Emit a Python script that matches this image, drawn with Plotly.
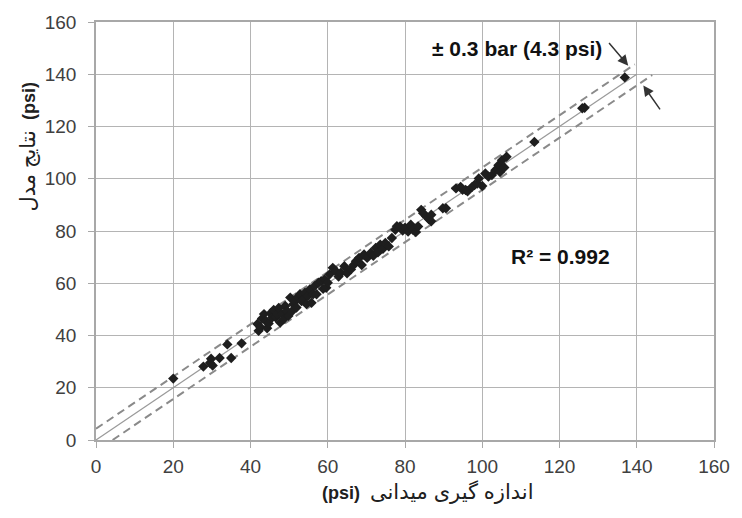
import plotly.graph_objects as go

# Field measurement (x) vs model result (y), psi
measured = [20.0, 27.8, 29.5, 29.8, 30.2, 32.0, 34.0, 35.0, 37.7,
            41.8, 42.1, 42.6, 43.0, 43.5, 43.9, 44.3, 44.7, 45.2, 45.6, 46.0,
            46.5, 46.9, 47.3, 47.7, 48.2, 48.6, 49.0, 49.4, 49.8, 50.3,
            50.8, 51.1, 51.5, 51.9, 52.3, 52.8, 53.2, 53.7, 54.1, 54.5,
            54.9, 55.4, 55.8, 56.2, 56.6, 57.1, 57.6, 58.3, 58.8, 59.2,
            59.6, 60.0, 60.5, 61.3, 62.1, 62.8, 63.4, 64.3, 65.0, 66.0,
            66.7, 67.3, 68.1, 68.8, 69.4, 70.2, 71.1, 71.8, 72.4, 73.0,
            73.6, 74.3, 74.9, 75.8, 76.6, 77.5, 77.9, 78.7, 79.4, 80.0,
            80.8, 81.5, 82.1, 82.8, 83.4, 84.2, 84.7, 85.5, 86.2, 86.8,
            86.8, 89.8, 90.6, 93.2, 94.4, 94.9, 95.7, 96.2, 97.4, 98.0,
            98.7, 99.1, 100.0, 100.8, 101.6, 102.5, 103.4, 104.2, 104.6, 105.1,
            105.7, 106.3, 113.5, 125.9, 126.5, 136.9]
model = [23.5, 28.1, 29.5, 31.1, 28.5, 31.4, 36.6, 31.4, 37.0,
         44.4, 41.8, 43.2, 46.5, 48.2, 45.6, 42.8, 44.6, 48.5, 46.9, 49.8,
         47.0, 48.2, 50.5, 45.0, 48.2, 46.2, 51.3, 49.5, 47.5, 54.5,
         49.4, 52.0, 53.2, 50.7, 54.8, 55.8, 53.2, 53.9, 56.4, 52.0,
         55.1, 57.7, 52.5, 55.8, 58.9, 55.8, 60.2, 60.8, 57.9, 61.5,
         58.3, 60.2, 63.4, 65.9, 64.6, 62.6, 64.0, 66.5, 63.8, 65.3,
         67.0, 68.4, 69.7, 67.0, 71.0, 69.7, 71.6, 70.5, 73.5, 71.8,
         74.8, 73.2, 75.4, 74.1, 77.3, 80.5, 81.8, 81.7, 80.2, 81.3,
         79.8, 82.4, 80.4, 79.6, 81.7, 88.1, 86.8, 85.6, 84.5, 86.2,
         83.7, 88.7, 88.7, 96.3, 96.9, 95.8, 95.7, 95.2, 96.9, 97.6,
         98.2, 100.1, 97.2, 102.0, 100.8, 101.4, 103.3, 105.2, 102.6, 107.1,
         104.3, 108.4, 114.1, 127.0, 127.2, 138.8]

# Reference lines: 1:1 line and the +/- 4.3 psi band
ideal_x = [0, 140]
ideal_y = [0, 140]
upper_x = [0, 139.5]
upper_y = [4.3, 143.8]
lower_x = [4.3, 144]
lower_y = [0, 139.7]

ticks = [0, 20, 40, 60, 80, 100, 120, 140, 160]

x_title = "<b>(psi)</b>  <span style='font-size:21px'>اندازه گیری میدانی</span>"
y_title = "<span style='font-size:21px'>نتایج مدل</span>  <b>(psi)</b>"
band_label = "<b>± 0.3 bar (4.3 psi)</b>"
r2_label = "<b>R² = 0.992</b>"

FONT = "Liberation Sans, Arial, DejaVu Sans, sans-serif"

fig = go.Figure()
fig.add_trace(go.Scatter(x=ideal_x, y=ideal_y, mode="lines",
                         line=dict(color="#9a9a9a", width=1.2), hoverinfo="skip"))
fig.add_trace(go.Scatter(x=upper_x, y=upper_y, mode="lines",
                         line=dict(color="#8a8a8a", width=2, dash="8px,5px"), hoverinfo="skip"))
fig.add_trace(go.Scatter(x=lower_x, y=lower_y, mode="lines",
                         line=dict(color="#8a8a8a", width=2, dash="8px,5px"), hoverinfo="skip"))
fig.add_trace(go.Scatter(x=measured, y=model, mode="markers",
                         marker=dict(symbol="diamond", size=8, color="#1e1e1e")))

axis_common = dict(
    range=[0, 160], tickvals=ticks, ticktext=[str(t) for t in ticks],
    showgrid=True, gridcolor="#b4b4b4", gridwidth=1.3,
    showline=True, linecolor="#a8a8a8", linewidth=1.5, mirror=True,
    ticks="outside", ticklen=6, tickcolor="#a8a8a8", tickwidth=1.3,
    zeroline=False, tickfont=dict(family=FONT, size=19, color="#404040"),
)

fig.update_layout(
    width=742, height=518,
    margin=dict(l=96, r=18, t=19, b=78),
    paper_bgcolor="white", plot_bgcolor="white",
    showlegend=False,
    font=dict(family=FONT),
    xaxis=dict(**axis_common, ticklabelstandoff=2),
    yaxis=dict(**axis_common, ticklabelstandoff=8),
    annotations=[
        dict(text=x_title, xref="paper", yref="paper", x=0.538, y=-0.125,
             xanchor="center", yanchor="middle", showarrow=False,
             font=dict(family=FONT, size=18, color="#202020")),
        dict(text=y_title, xref="paper", yref="paper", x=-0.11, y=0.70,
             xanchor="center", yanchor="middle", showarrow=False, textangle=-90,
             font=dict(family=FONT, size=18, color="#202020")),
        dict(text=band_label, x=109.0, y=150, xref="x", yref="y",
             xanchor="center", yanchor="middle", showarrow=False,
             font=dict(family=FONT, size=21, color="#111111")),
        dict(text=r2_label, x=120.3, y=70.3, xref="x", yref="y",
             xanchor="center", yanchor="middle", showarrow=False,
             font=dict(family=FONT, size=21, color="#111111")),
        dict(text="", x=137.8, y=143.3, ax=132.5, ay=152.5, xref="x", yref="y",
             axref="x", ayref="y", showarrow=True, arrowhead=2, arrowsize=1.4,
             arrowwidth=1.5, arrowcolor="#333333"),
        dict(text="", x=141.7, y=135.7, ax=146.3, ay=126.0, xref="x", yref="y",
             axref="x", ayref="y", showarrow=True, arrowhead=2, arrowsize=1.4,
             arrowwidth=1.5, arrowcolor="#333333"),
    ],
)

fig.write_html("out.html")
